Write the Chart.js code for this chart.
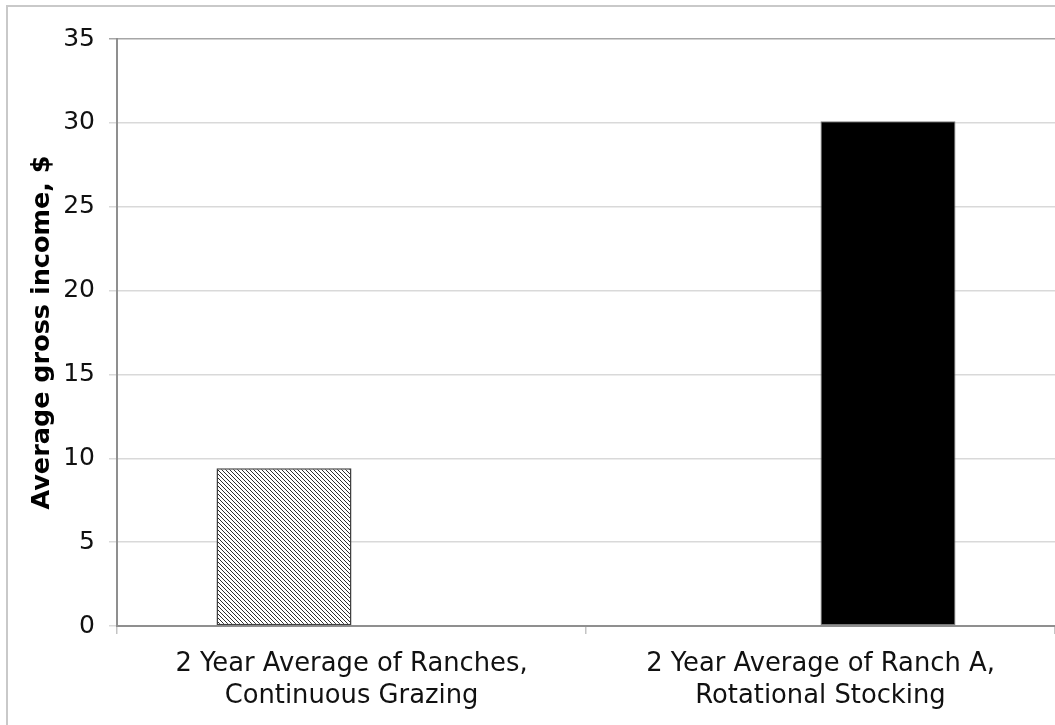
<!DOCTYPE html>
<html>
<head>
<meta charset="utf-8">
<title>Average gross income</title>
<script src="https://cdn.jsdelivr.net/npm/chart.js@4/dist/chart.umd.min.js"></script>
<style>
  html, body { margin: 0; padding: 0; background: #fff; overflow: hidden; }
  #wrap { position: relative; width: 1055px; height: 725px; }
  #frame {
    position: absolute; left: 6px; top: 5px; right: -10px; bottom: -10px;
    border-left: 2px solid #c9c9c9; border-top: 2px solid #c9c9c9;
    pointer-events: none;
  }
  canvas { position: absolute; left: 0; top: 0; }
</style>
</head>
<body>
<div id="wrap">
  <canvas id="chart" width="1055" height="725"></canvas>
  <div id="frame"></div>
</div>
<script>
// Category labels (two lines each)
const categories = [
  ["2 Year Average of Ranches,", "Continuous Grazing"],
  ["2 Year Average of Ranch A,", "Rotational Stocking"]
];
// Series values, $ (one bar per category)
const continuousGrazing = [9.4, null];
const rotationalStocking = [null, 30.1];
// Value axis
const yMin = 0;
const yMax = 35;
const yStep = 5;
const yTitle = "Average gross income, $";

// Diagonal hatch fill for the continuous-grazing bar
function hatchPattern() {
  const size = 4;
  const c = document.createElement('canvas');
  c.width = size; c.height = size;
  const g = c.getContext('2d');
  g.fillStyle = '#ffffff';
  g.fillRect(0, 0, size, size);
  g.strokeStyle = '#2e2e2e';
  g.lineWidth = 1;
  g.beginPath();
  g.moveTo(-1, -1); g.lineTo(size + 1, size + 1);
  g.moveTo(-1, size - 1); g.lineTo(1, size + 1);
  g.moveTo(size - 1, -1); g.lineTo(size + 1, 1);
  g.stroke();
  return g.createPattern(c, 'repeat');
}

const ctx = document.getElementById('chart').getContext('2d');
const FONT = "'DejaVu Sans', Verdana, sans-serif";

new Chart(ctx, {
  type: 'bar',
  data: {
    labels: categories,
    datasets: [
      {
        label: 'Continuous Grazing',
        data: continuousGrazing,
        backgroundColor: hatchPattern(),
        borderColor: '#404040',
        borderWidth: 1.5,
        borderSkipped: false
      },
      {
        label: 'Rotational Stocking',
        data: rotationalStocking,
        backgroundColor: '#000000',
        borderColor: '#808080',
        borderWidth: 1,
        borderSkipped: false
      }
    ]
  },
  options: {
    responsive: false,
    animation: false,
    devicePixelRatio: 1,
    layout: { padding: { top: 39, right: 0, bottom: 0, left: 0 } },
    datasets: { bar: { barPercentage: 1.0, categoryPercentage: 0.5757 } },
    plugins: {
      legend: { display: false },
      tooltip: { enabled: false }
    },
    scales: {
      x: {
        afterFit(scale) { scale.height = 99; },
        grid: {
          offset: true,
          drawOnChartArea: false,
          drawTicks: true,
          tickLength: 8,
          color: '#c4c4c4',
          lineWidth: 1.5
        },
        border: { display: true, color: '#8f8f8f', width: 2 },
        ticks: {
          color: '#111111',
          padding: 14,
          maxRotation: 0,
          autoSkip: false,
          font: { family: FONT, size: 25.8, lineHeight: 1.25 }
        }
      },
      y: {
        min: yMin,
        max: yMax,
        afterFit(scale) { scale.width = 117; },
        grid: {
          color: (c) => (c.tick && c.tick.value === yMax ? '#a6a6a6' : '#d9d9d9'),
          lineWidth: 1.5,
          tickLength: 8
        },
        border: { display: true, color: '#8f8f8f', width: 2 },
        ticks: {
          stepSize: yStep,
          color: '#111111',
          padding: 14,
          font: { family: FONT, size: 25 }
        },
        title: {
          display: true,
          text: yTitle,
          color: '#000000',
          padding: { top: 27, bottom: 0 },
          font: { family: FONT, size: 25.5, weight: 'bold', lineHeight: 1.2 }
        }
      }
    }
  }
});
</script>
</body>
</html>
